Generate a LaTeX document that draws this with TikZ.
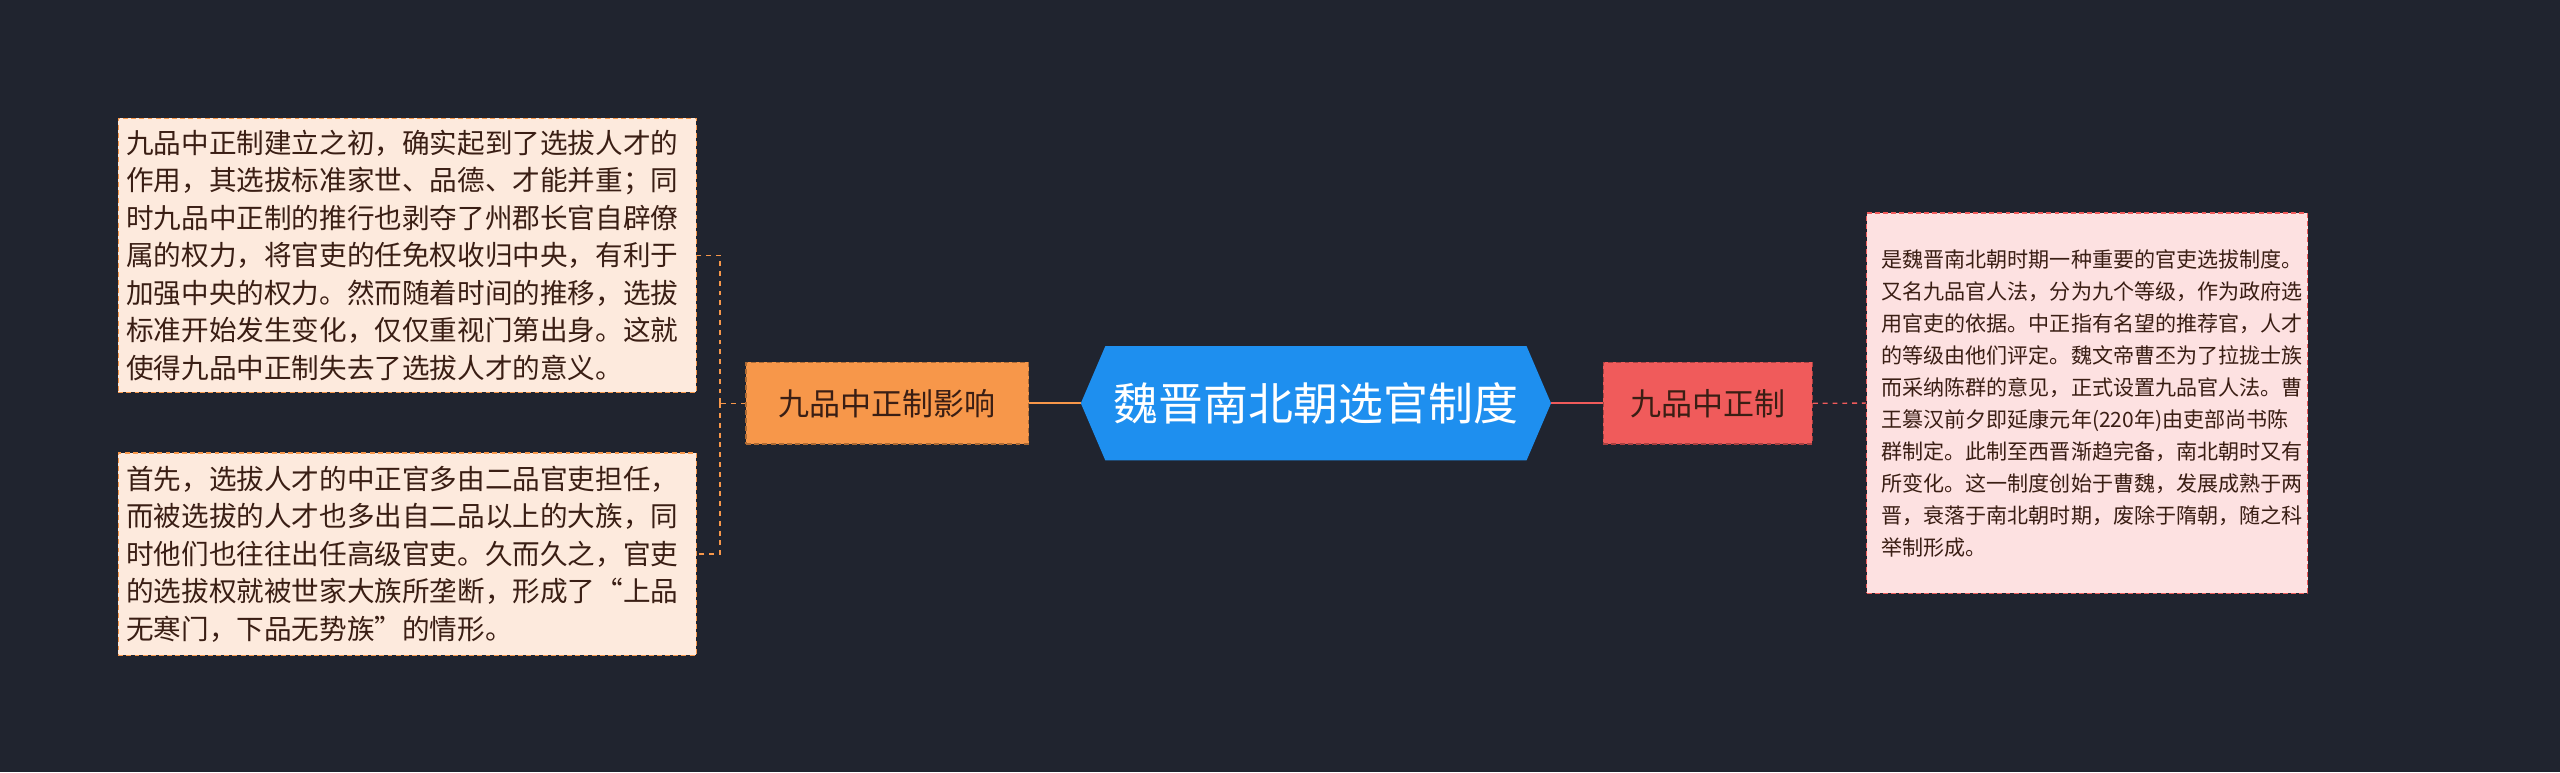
\documentclass[tikz,border=0pt]{standalone}
\usepackage{fontspec}
\setmainfont{Noto Sans CJK SC}
\begin{document}
\begin{tikzpicture}[x=1pt,y=1pt,
  leaf/.style={draw=#1,dashed,dash pattern=on 3pt off 2pt,line width=0.8pt,anchor=north west,align=left,inner sep=0pt,text=textc},
  mid/.style={draw=#1,dashed,dash pattern=on 3pt off 2pt,line width=0.8pt,minimum height=50pt,font=\fontsize{19}{22}\selectfont,text=textc,inner sep=0pt},
]
\definecolor{bg}{HTML}{20242F}
\definecolor{blueC}{HTML}{1E8FEF}
\definecolor{redC}{HTML}{F05B5B}
\definecolor{orgC}{HTML}{F7974A}
\definecolor{pinkC}{HTML}{FDE1E1}
\definecolor{peachC}{HTML}{FDEADD}
\definecolor{textc}{HTML}{3A1E14}
\fill[bg] (0,0) rectangle (1568,473);
\useasboundingbox (0,0) rectangle (1568,473);
% center
\fill[blueC] (662,226) -- (677,261) -- (935,261) -- (950,226) -- (935,191) -- (677,191) -- cycle;
\node[text=white,font=\fontsize{27.5}{30}\selectfont,minimum width=288pt,minimum height=70pt,inner sep=0pt] (c) at (806,226) {魏晋南北朝选官制度};
% mid nodes
\node[mid=redC!70!black,fill=redC,minimum width=128pt] (r) at (1046,226) {九品中正制};
\node[mid=orgC!70!black,fill=orgC,minimum width=173pt] (l) at (543.5,226) {九品中正制影响};
% leaves
\node[leaf=redC,fill=pinkC,minimum width=270pt,minimum height=233pt,text width=262pt,inner xsep=4pt,font=\fontsize{12.9}{19.6}\selectfont] (rl) at (1143,343) {\hspace*{5pt}是魏晋南北朝时期一种重要的官吏选拔制度。\\\hspace*{5pt}又名九品官人法，分为九个等级，作为政府选\\\hspace*{5pt}用官吏的依据。中正指有名望的推荐官，人才\\\hspace*{5pt}的等级由他们评定。魏文帝曹丕为了拉拢士族\\\hspace*{5pt}而采纳陈群的意见，正式设置九品官人法。曹\\\hspace*{5pt}王篡汉前夕即延康元年(220年)由吏部尚书陈\\\hspace*{5pt}群制定。此制至西晋渐趋完备，南北朝时又有\\\hspace*{5pt}所变化。这一制度创始于曹魏，发展成熟于两\\\hspace*{5pt}晋，衰落于南北朝时期，废除于隋朝，随之科\\\hspace*{5pt}举制形成。};
\node[leaf=orgC,fill=peachC,minimum width=354pt,minimum height=168pt,text width=344pt,inner xsep=5pt,font=\fontsize{16.9}{23}\selectfont] (l1) at (72,401) {九品中正制建立之初，确实起到了选拔人才的\\作用，其选拔标准家世、品德、才能并重；同\\时九品中正制的推行也剥夺了州郡长官自辟僚\\属的权力，将官吏的任免权收归中央，有利于\\加强中央的权力。然而随着时间的推移，选拔\\标准开始发生变化，仅仅重视门第出身。这就\\使得九品中正制失去了选拔人才的意义。};
\node[leaf=orgC,fill=peachC,minimum width=354pt,minimum height=124pt,text width=344pt,inner xsep=5pt,font=\fontsize{16.9}{23}\selectfont] (l2) at (72,196) {首先，选拔人才的中正官多由二品官吏担任，\\而被选拔的人才也多出自二品以上的大族，同\\时他们也往往出任高级官吏。久而久之，官吏\\的选拔权就被世家大族所垄断，形成了“上品\\无寒门，下品无势族”的情形。};
% connectors
\draw[redC,line width=1.5pt] (c.east) -- (r.west);
\draw[redC,line width=0.8pt,dashed] (r.east) -- (rl.west);
\draw[orgC,line width=1.5pt] (c.west) -- (l.east);
\coordinate (j) at (441,226);
\draw[orgC,line width=0.8pt,dashed] (l.west) -- (j) (j) |- (l1.east) (j) |- (l2.east);
\end{tikzpicture}
\end{document}
